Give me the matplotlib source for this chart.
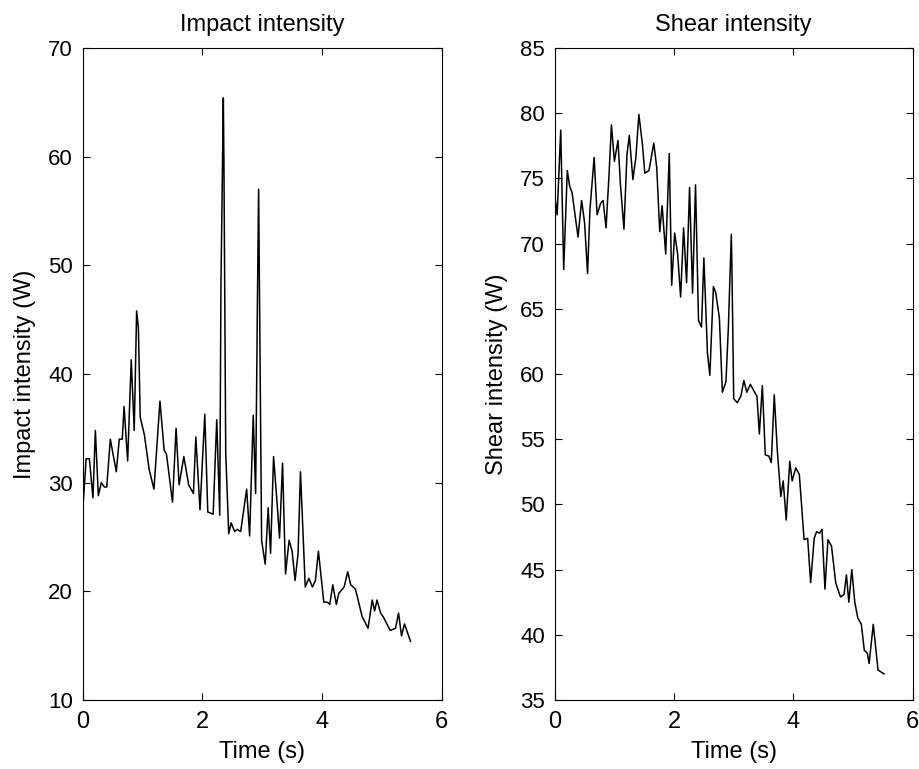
import matplotlib
matplotlib.use("Agg")
import matplotlib.pyplot as plt
import numpy as np

# impact intensity trace
t_imp = [0, 0.056, 0.11, 0.17, 0.21, 0.26, 0.31, 0.36, 0.4, 0.46, 0.5, 0.56, 0.61, 0.66, 0.69,
         0.75, 0.81, 0.86, 0.9, 0.93, 0.96, 1.03, 1.11, 1.19, 1.29, 1.36, 1.4, 1.5, 1.56, 1.61,
         1.69, 1.77, 1.85, 1.89, 1.96, 2.04, 2.09, 2.18, 2.24, 2.29, 2.31, 2.35, 2.36, 2.39, 2.44,
         2.48, 2.54, 2.58, 2.64, 2.74, 2.79, 2.85, 2.89, 2.92, 2.94, 2.99, 3.05, 3.1, 3.14, 3.19,
         3.24, 3.29, 3.34, 3.39, 3.45, 3.5, 3.55, 3.6, 3.64, 3.72, 3.78, 3.84, 3.89, 3.94, 4.03,
         4.09, 4.13, 4.18, 4.24, 4.28, 4.37, 4.43, 4.48, 4.56, 4.67, 4.77, 4.84, 4.88, 4.92, 4.98,
         5.03, 5.14, 5.23, 5.28, 5.33, 5.38, 5.48]
impact = [27.5, 32.2, 32.2, 28.6, 34.8, 28.8, 30.0, 29.6, 29.6, 34.0, 32.8, 31.0, 34.0, 34.0, 37.0,
          32.0, 41.3, 34.8, 45.8, 44.2, 36.0, 34.4, 31.2, 29.4, 37.5, 33.0, 32.6, 28.2, 35.0, 29.8,
          32.4, 29.8, 29.0, 34.2, 27.5, 36.3, 27.3, 27.1, 35.8, 27.0, 48.0, 65.4, 59.5, 32.8, 25.3,
          26.3, 25.5, 25.7, 25.5, 29.4, 25.1, 36.2, 29.0, 46.6, 57.0, 24.7, 22.5, 27.7, 23.5, 32.4,
          28.8, 24.9, 31.8, 21.6, 24.7, 23.7, 21.0, 23.5, 31.0, 20.4, 21.2, 20.4, 21.0, 23.7, 19.0,
          19.0, 18.8, 20.6, 18.8, 19.8, 20.4, 21.8, 20.6, 20.2, 17.7, 16.6, 19.2, 18.2, 19.2, 18.0,
          17.6, 16.4, 16.6, 18.0, 15.9, 17.0, 15.4]

# shear intensity trace
t_shr = [0.01, 0.04, 0.1, 0.15, 0.21, 0.25, 0.29, 0.34, 0.39, 0.45, 0.5, 0.55, 0.59, 0.66, 0.71,
         0.77, 0.81, 0.86, 0.91, 0.95, 1.0, 1.06, 1.1, 1.16, 1.21, 1.25, 1.31, 1.36, 1.41, 1.47,
         1.51, 1.58, 1.66, 1.71, 1.76, 1.8, 1.86, 1.92, 1.96, 2.01, 2.06, 2.11, 2.16, 2.21, 2.26,
         2.31, 2.36, 2.41, 2.46, 2.5, 2.56, 2.6, 2.66, 2.7, 2.76, 2.81, 2.87, 2.91, 2.96, 2.97,
         3.0, 3.06, 3.12, 3.17, 3.22, 3.28, 3.35, 3.39, 3.43, 3.48, 3.53, 3.59, 3.63, 3.68, 3.73,
         3.79, 3.83, 3.88, 3.94, 3.98, 4.04, 4.1, 4.18, 4.24, 4.29, 4.35, 4.39, 4.44, 4.48, 4.53,
         4.58, 4.64, 4.71, 4.79, 4.85, 4.89, 4.93, 4.98, 5.03, 5.08, 5.14, 5.19, 5.24, 5.27, 5.34,
         5.42, 5.52]
shear = [73.3, 72.2, 78.7, 68.0, 75.6, 74.4, 73.9, 72.2, 70.5, 73.3, 71.6, 67.7, 72.6, 76.6, 72.2,
         73.1, 73.3, 71.2, 75.3, 79.1, 76.3, 77.9, 74.6, 71.1, 76.8, 78.3, 74.9, 76.6, 79.9, 77.6,
         75.4, 75.6, 77.7, 75.8, 70.9, 72.9, 69.2, 76.9, 66.8, 70.8, 69.2, 65.9, 71.2, 67.0, 74.3,
         66.2, 74.5, 64.1, 63.6, 68.9, 61.6, 59.9, 66.7, 66.2, 64.3, 58.6, 59.4, 63.5, 70.7, 68.2,
         58.1, 57.8, 58.3, 59.5, 58.6, 59.2, 58.6, 58.3, 55.4, 59.1, 53.8, 53.7, 53.2, 58.4, 54.2,
         50.6, 51.8, 48.8, 53.3, 51.8, 52.8, 52.3, 47.3, 47.4, 44.0, 47.4, 47.9, 47.8, 48.1, 43.5,
         47.3, 46.8, 44.0, 42.9, 43.1, 44.6, 42.5, 45.0, 42.5, 41.3, 40.8, 38.8, 38.6, 37.8, 40.8,
         37.3, 37.0]

plt.rcParams["font.family"] = ["Liberation Sans", "DejaVu Sans"]

fig = plt.figure(figsize=(9.2, 7.69), dpi=100)
ax1 = fig.add_axes([0.090, 0.0897, 0.390, 0.848])
ax2 = fig.add_axes([0.603, 0.0897, 0.389, 0.848])

for ax in (ax1, ax2):
    ax.tick_params(direction="in", top=True, right=True, length=5, width=0.8)
    ax.tick_params(axis="y", labelsize=16, pad=7)
    ax.tick_params(axis="x", labelsize=17, pad=8)
    ax.set_xlim(0, 6)
    ax.set_xticks([0, 2, 4, 6])
    for s in ax.spines.values():
        s.set_linewidth(0.8)

ax1.plot(t_imp, impact, color="black", linewidth=1.1)
ax1.set_ylim(10, 70)
ax1.set_yticks(np.arange(10, 71, 10))
ax1.set_title("Impact intensity", fontsize=17, pad=12)
ax1.set_xlabel("Time (s)", fontsize=17, labelpad=6)
ax1.set_ylabel("Impact intensity (W)", fontsize=17, labelpad=9)

ax2.plot(t_shr, shear, color="black", linewidth=1.1)
ax2.set_ylim(35, 85)
ax2.set_yticks(np.arange(35, 86, 5))
ax2.set_title("Shear intensity", fontsize=17, pad=12)
ax2.set_xlabel("Time (s)", fontsize=17, labelpad=6)
ax2.set_ylabel("Shear intensity (W)", fontsize=17, labelpad=9)

plt.savefig("out.png", dpi=100)
